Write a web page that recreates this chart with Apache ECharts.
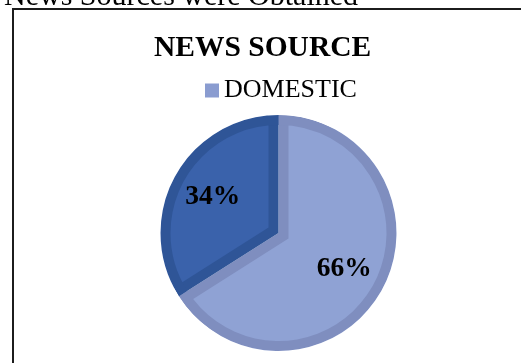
<!DOCTYPE html>
<html>
<head>
<meta charset="utf-8">
<style>
  html, body { margin: 0; padding: 0; background: #ffffff; }
  #chart { width: 521px; height: 363px; }
</style>
<script src="https://cdn.jsdelivr.net/npm/echarts@6/dist/echarts.min.js"></script>
</head>
<body>
<div id="chart"></div>
<script>
// Share of news items by source (percent)
const categories = ['DOMESTIC', 'FOREIGN'];
const shares = [66, 34];
const legendItems = ['DOMESTIC'];

const fillColors = ['#8FA2D4', '#3A62AB'];
const rimColors = ['#7F8EBF', '#2F5597'];
const legendColor = '#8A9CD0';
const SERIF = '"Liberation Serif", "Times New Roman", serif';

const CENTER = [278.5, 233];
const R = 118;      // outer radius of the pie
const RIM = 10;     // width of the darker rim drawn inside every slice
// Pulling each slice out along its bisector by this much moves both of its
// straight edges inwards by exactly RIM (half-angles of two slices are supplementary).
const SHIFT = RIM / Math.sin(Math.PI * shares[0] / 100);

function sliceData(colors, extra) {
  return categories.map((name, i) => Object.assign({
    name: name,
    value: shares[i],
    itemStyle: { color: colors[i] }
  }, extra ? extra(i) : {}));
}

const common = {
  type: 'pie',
  center: CENTER,
  startAngle: 90,
  clockwise: true,
  silent: true,
  label: { show: false },
  labelLine: { show: false },
  emphasis: { disabled: true }
};

const chart = echarts.init(document.getElementById('chart'), null, { renderer: 'canvas' });

chart.setOption({
  animation: false,
  backgroundColor: '#ffffff',
  title: {
    text: 'NEWS SOURCE',
    left: 154,
    top: 33,
    padding: 0,
    textStyle: { fontFamily: SERIF, fontWeight: 'bold', fontSize: 29.5, color: '#000000' }
  },
  legend: {
    data: legendItems.map(n => ({ name: n, itemStyle: { color: legendColor } })),
    left: 205,
    top: 77.5,
    padding: 0,
    icon: 'rect',
    itemWidth: 14,
    itemHeight: 14,
    selectedMode: false,
    textStyle: { fontFamily: SERIF, fontSize: 26, color: '#000000' }
  },
  graphic: [
    {
      type: 'rect',
      silent: true,
      shape: { x: 13, y: 9, width: 620, height: 420 },
      style: { fill: 'none', stroke: '#1c1c1c', lineWidth: 2 }
    },
    {
      type: 'text',
      silent: true,
      x: 4,
      y: -2.6,
      style: {
        text: 'News Sources were Obtained',
        font: '30px ' + SERIF,
        fill: '#000000',
        verticalAlign: 'middle',
        align: 'left'
      }
    }
  ],
  series: [
    // full slices in the rim colour
    Object.assign({}, common, {
      name: 'rim',
      radius: [0, R],
      data: sliceData(rimColors)
    }),
    // slice faces, pulled out so their straight edges sit RIM inside the slice edges
    Object.assign({}, common, {
      name: 'face',
      radius: [0, R - RIM + SHIFT],
      selectedMode: 'multiple',
      selectedOffset: SHIFT,
      select: { itemStyle: { borderWidth: 0 } },
      data: sliceData(fillColors, i => ({
        selected: true,
        select: { itemStyle: { color: fillColors[i] } }
      }))
    }),
    // outer rim band
    Object.assign({}, common, {
      name: 'rimBand',
      radius: [R - RIM, R],
      data: sliceData(rimColors)
    }),
    // background ring trimming the pulled-out faces at the pie edge
    Object.assign({}, common, {
      name: 'edge',
      radius: [R, R - RIM + 2 * SHIFT + 2],
      data: sliceData(['#ffffff', '#ffffff'])
    }),
    // percentage labels
    Object.assign({}, common, {
      name: 'labels',
      radius: [2 * 72 - R, R],
      data: sliceData(['rgba(0,0,0,0)', 'rgba(0,0,0,0)']),
      label: {
        show: true,
        position: 'inside',
        formatter: p => p.value + '%',
        fontFamily: SERIF,
        fontWeight: 'bold',
        fontSize: 27.5,
        color: '#000000'
      }
    })
  ]
});
</script>
</body>
</html>
